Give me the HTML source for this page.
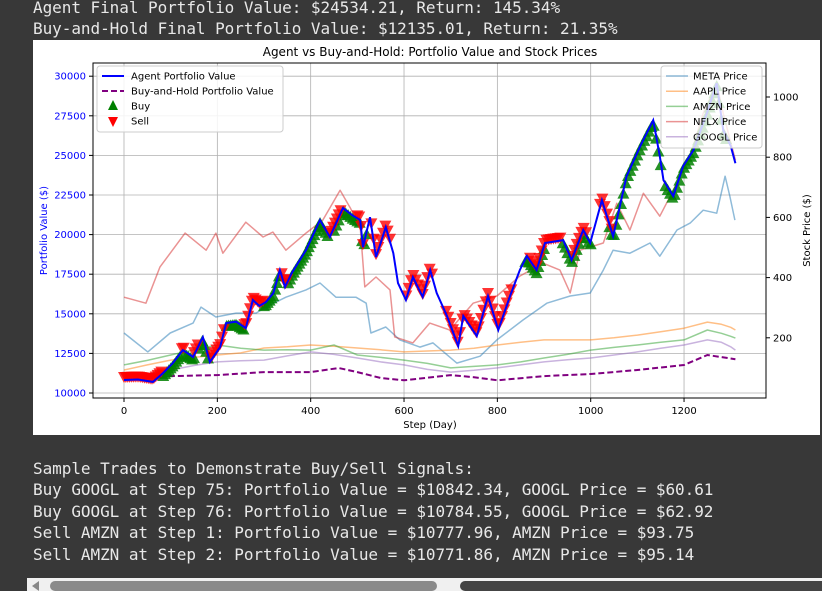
<!DOCTYPE html>
<html><head><meta charset="utf-8"><style>
html,body{margin:0;padding:0;background:#383838;width:822px;height:591px;overflow:hidden}
.t{position:absolute;left:33px;font-family:"DejaVu Sans Mono","Liberation Mono",monospace;font-size:16px;color:#e8e8e8;white-space:pre;line-height:21px;letter-spacing:-0.05px}
#chart{position:absolute;left:33px;top:40px;width:787px;height:395px;background:#fff}
svg text{font-family:"DejaVu Sans","Liberation Sans",sans-serif}
</style></head><body>
<div class="t" style="top:-3px">Agent Final Portfolio Value: $24534.21, Return: 145.34%</div>
<div class="t" style="top:18px">Buy-and-Hold Final Portfolio Value: $12135.01, Return: 21.35%</div>
<div id="chart">
<svg id="svg" width="787" height="395" xmlns="http://www.w3.org/2000/svg"></svg>
</div>
<div class="t" style="top:458px">Sample Trades to Demonstrate Buy/Sell Signals:</div>
<div class="t" style="top:479px">Buy GOOGL at Step 75: Portfolio Value = $10842.34, GOOGL Price = $60.61</div>
<div class="t" style="top:501px">Buy GOOGL at Step 76: Portfolio Value = $10784.55, GOOGL Price = $62.92</div>
<div class="t" style="top:522px">Sell AMZN at Step 1: Portfolio Value = $10777.96, AMZN Price = $93.75</div>
<div class="t" style="top:544px">Sell AMZN at Step 2: Portfolio Value = $10771.86, AMZN Price = $95.14</div>
<div style="position:absolute;left:27px;top:578px;width:795px;height:13px;background:#f0f0f0">
<div style="position:absolute;left:5px;top:3px;width:0;height:0;border-right:7px solid #888;border-top:5px solid transparent;border-bottom:5px solid transparent"></div>
<div style="position:absolute;left:23px;top:3px;width:387px;height:10px;background:#8a8a8a;border-radius:5px"></div>
<div style="position:absolute;left:433px;top:3px;width:362px;height:10px;background:#444;border-radius:5px 0 0 5px"></div>
</div>
<script>
const agentSteps=[0,30,62,84,105,126,148,169,184,206,219,240,261,276,290,304,320,334,345,360,390,420,441,469,490,506,512,527,540,561,577,587,604,619,640,656,670,692,716,727,756,780,802,827,848,863,884,902,941,959,984,999,1024,1048,1077,1106,1134,1148,1156,1177,1198,1220,1249,1270,1284,1300,1310];
const agentValues=[10820,10850,10700,11260,11900,12710,12270,13530,11960,12900,14420,14500,14100,15870,15500,15740,16300,17760,16690,17600,19020,20920,19850,21670,21200,20920,19210,21100,18580,20470,18830,16940,15870,17320,16060,17760,16310,14860,12970,14860,13600,16120,13980,16120,17760,18640,17760,19470,19650,18390,20290,19470,22180,19900,23690,25580,27220,24950,23440,22430,24320,25330,27670,29560,26600,25600,24510];
const bhSteps=[0,50,100,200,300,400,460,500,550,600,700,750,800,900,1000,1100,1200,1250,1310];
const bhValues=[10850,10950,11070,11130,11320,11320,11580,11320,10950,10800,11130,11000,10800,11070,11200,11450,11770,12400,12135];
const metaSteps=[0,51,99,148,165,197,240,283,304,347,390,420,454,497,519,529,561,591,634,662,713,763,799,855,906,956,999,1027,1048,1084,1127,1148,1185,1213,1241,1270,1288,1298,1309];
const metaPrice=[216,153,216,249,302,269,282,282,302,335,359,382,335,335,315,216,236,193,169,183,116,139,193,259,315,339,349,425,491,481,515,471,558,581,624,614,737,671,591];
const nflxSteps=[0,47,77,131,176,197,212,261,298,319,347,390,426,463,484,506,516,540,570,580,619,655,698,748,799,848,898,934,956,977,1027,1056,1084,1113,1148,1185,1213,1241,1270,1284,1310];
const nflxPrice=[335,315,435,548,491,548,481,584,535,551,491,548,591,690,634,568,369,402,359,203,183,249,226,315,339,405,448,425,349,491,515,647,558,680,604,714,803,946,1046,946,790];
const priceSteps=[0,50,100,150,200,250,300,350,400,450,500,550,600,650,700,750,800,850,900,950,1000,1050,1100,1150,1200,1250,1280,1300,1310];
const aaplPrice=[93,110,126,135,143,150,166,170,176,172,166,160,153,156,159,165,176,185,193,193,193,200,209,220,232,252,245,235,226];
const amznPrice=[110,125,143,160,176,165,159,160,159,176,143,135,126,115,100,105,110,120,133,145,159,168,176,185,193,226,215,205,199];
const googlPrice=[66,80,93,108,120,124,126,140,153,145,133,120,110,95,86,92,100,110,120,127,133,143,153,165,176,193,185,170,159];
const buySteps=[84,88,92,96,100,104,108,112,116,120,130,134,138,142,146,150,160,164,168,172,176,180,220,224,228,232,236,240,244,248,252,256,300,304,308,312,316,320,324,328,332,336,352,356,360,364,368,372,376,380,384,388,392,396,400,404,408,412,416,420,424,428,432,436,450,455,460,465,470,475,480,485,490,495,500,505,510,515,520,860,864,868,872,876,880,884,888,892,896,900,940,945,950,955,960,965,970,975,980,985,990,995,1000,1040,1045,1050,1055,1060,1065,1070,1075,1080,1085,1090,1095,1100,1105,1110,1115,1120,1125,1130,1135,1140,1145,1150,1160,1165,1170,1175,1180,1185,1190,1195,1200,1205,1210,1215,1220,1225,1230,1235,1240,1245,1250,1255,1260,1265,1270,1275,1280,1285,1290];
const sellSteps=[0,4,8,12,16,20,24,28,32,36,40,44,48,52,56,60,64,68,72,76,80,124,128,150,154,158,186,190,194,198,202,206,210,214,258,262,266,270,274,278,282,286,290,294,298,338,342,346,350,440,444,448,452,456,460,464,500,504,508,512,530,535,540,545,550,555,560,565,570,605,610,615,620,625,630,635,640,645,650,655,660,690,695,700,705,710,715,720,725,730,735,740,745,750,755,760,765,770,775,780,785,790,795,800,805,810,815,820,825,830,870,875,880,885,890,895,900,905,910,915,920,925,930,935,960,965,970,975,980,985,990,1020,1025,1030,1035,1040,1045];
const xTicks=[0,200,400,600,800,1000,1200];
const yLeftTicks=[10000,12500,15000,17500,20000,22500,25000,27500,30000];
const yRightTicks=[200,400,600,800,1000];

const svg=document.getElementById('svg');
const NS='http://www.w3.org/2000/svg';
const OX=33,OY=40;
const L=93-OX,R=766-OX,T=63-OY,B=398-OY;
const xs=s=>(124-OX)+s*0.4667;
const yl=v=>(393-OY)-(v-10000)*39.6/2500;
const yr=p=>B-p*60.2/200;
function el(tag,attrs,parent){const e=document.createElementNS(NS,tag);for(const k in attrs)e.setAttribute(k,attrs[k]);(parent||svg).appendChild(e);return e;}
function interp(xa,ya,x){for(let i=0;i<xa.length-1;i++){if(x<=xa[i+1]){const t=(x-xa[i])/(xa[i+1]-xa[i]);return ya[i]+t*(ya[i+1]-ya[i]);}}return ya[ya.length-1];}
function pts(xa,ya,yf){return xa.map((s,i)=>xs(s).toFixed(1)+','+yf(ya[i]).toFixed(1)).join(' ');}

xTicks.forEach(t=>{const g=el('line',{x1:xs(t),x2:xs(t),y1:T,y2:B,stroke:'#b0b0b0','stroke-width':0.8});

});
yLeftTicks.forEach(t=>{const g=el('line',{x1:L,x2:R,y1:yl(t),y2:yl(t),stroke:'#b0b0b0','stroke-width':0.8});

});

const series=[['meta',metaSteps,metaPrice,'#1f77b4'],['aapl',priceSteps,aaplPrice,'#ff7f0e'],['amzn',priceSteps,amznPrice,'#2ca02c'],['nflx',nflxSteps,nflxPrice,'#d62728'],['googl',priceSteps,googlPrice,'#9467bd']];
series.forEach(([n,sx,d,c])=>{const p=el('polyline',{points:pts(sx,d,yr),fill:'none',stroke:c,'stroke-width':1.5,'stroke-opacity':0.5,'stroke-linejoin':'round'});

});

const bh=el('polyline',{points:pts(bhSteps,bhValues,yl),fill:'none',stroke:'#800080','stroke-width':2,'stroke-dasharray':'6,3'});



buySteps.forEach(s=>{const x=xs(s),y=yl(interp(agentSteps,agentValues,s))+3;
const m=el('polygon',{points:`${x},${y-6} ${x-6},${y+5} ${x+6},${y+5}`,fill:'#008000','fill-opacity':0.85});

});
sellSteps.forEach(s=>{const x=xs(s),y=yl(interp(agentSteps,agentValues,s))-3;
const m=el('polygon',{points:`${x},${y+6} ${x-6},${y-5} ${x+6},${y-5}`,fill:'#ff0000','fill-opacity':0.8});

});

const ag=el('polyline',{points:pts(agentSteps,agentValues,yl),fill:'none',stroke:'#0000ff','stroke-width':2});



const fr=el('rect',{x:L,y:T,width:R-L,height:B-T,fill:'none',stroke:'#000','stroke-width':1});



xTicks.forEach(t=>{el('line',{x1:xs(t),x2:xs(t),y1:B,y2:B+4,stroke:'#000'});
const tx=el('text',{x:xs(t),y:B+16,'font-size':10,'text-anchor':'middle',fill:'#000'});tx.textContent=t;

});
yLeftTicks.forEach(t=>{el('line',{x1:L-4,x2:L,y1:yl(t),y2:yl(t),stroke:'#000'});
const tx=el('text',{x:L-7,y:yl(t)+3.5,'font-size':10,'text-anchor':'end',fill:'#0000ff'});tx.textContent=t;

});
yRightTicks.forEach(t=>{el('line',{x1:R,x2:R+4,y1:yr(t),y2:yr(t),stroke:'#000'});
const tx=el('text',{x:R+7,y:yr(t)+3.5,'font-size':10,'text-anchor':'start',fill:'#000'});tx.textContent=t;

});

let tt=el('text',{x:397,y:16,'font-size':12,'text-anchor':'middle',fill:'#000'});tt.textContent='Agent vs Buy-and-Hold: Portfolio Value and Stock Prices';


tt=el('text',{x:397,y:388,'font-size':10,'text-anchor':'middle',fill:'#000'});tt.textContent='Step (Day)';


tt=el('text',{x:0,y:0,'font-size':10,'text-anchor':'middle',fill:'#0000ff',transform:`translate(14,${(T+B)/2}) rotate(-90)`});tt.textContent='Portfolio Value ($)';


tt=el('text',{x:0,y:0,'font-size':10,'text-anchor':'middle',fill:'#000',transform:`translate(777,${(T+B)/2}) rotate(-90)`});tt.textContent='Stock Price ($)';



const lg1=el('g',{});


el('rect',{x:64,y:26,width:186,height:66,fill:'#fff','fill-opacity':0.85,stroke:'#ccc',rx:3},lg1);
const le1=[['Agent Portfolio Value','line','#0000ff'],['Buy-and-Hold Portfolio Value','dash','#800080'],['Buy','up','#008000'],['Sell','down','#ff0000']];
le1.forEach((e,i)=>{const y=36+i*15;
if(e[1]==='line')el('line',{x1:69,x2:91,y1:y,y2:y,stroke:e[2],'stroke-width':2},lg1);
if(e[1]==='dash')el('line',{x1:69,x2:91,y1:y,y2:y,stroke:e[2],'stroke-width':2,'stroke-dasharray':'6,3'},lg1);
if(e[1]==='up')el('polygon',{points:`80,${y-6} 75,${y+4} 85,${y+4}`,fill:e[2]},lg1);
if(e[1]==='down')el('polygon',{points:`80,${y+6} 75,${y-4} 85,${y-4}`,fill:e[2]},lg1);
const t=el('text',{x:98,y:y+3.5,'font-size':10,fill:'#000'},lg1);t.textContent=e[0];

});
const lg2=el('g',{});


el('rect',{x:628,y:26,width:101,height:82,fill:'#fff','fill-opacity':0.8,stroke:'#ccc',rx:3},lg2);
[['META Price','#1f77b4'],['AAPL Price','#ff7f0e'],['AMZN Price','#2ca02c'],['NFLX Price','#d62728'],['GOOGL Price','#9467bd']].forEach((e,i)=>{const y=36+i*15.2;
el('line',{x1:633,x2:655,y1:y,y2:y,stroke:e[1],'stroke-width':1.5,'stroke-opacity':0.5},lg2);
const t=el('text',{x:660,y:y+3.5,'font-size':10,fill:'#000'},lg2);t.textContent=e[0];

});
</script>
</body></html>
